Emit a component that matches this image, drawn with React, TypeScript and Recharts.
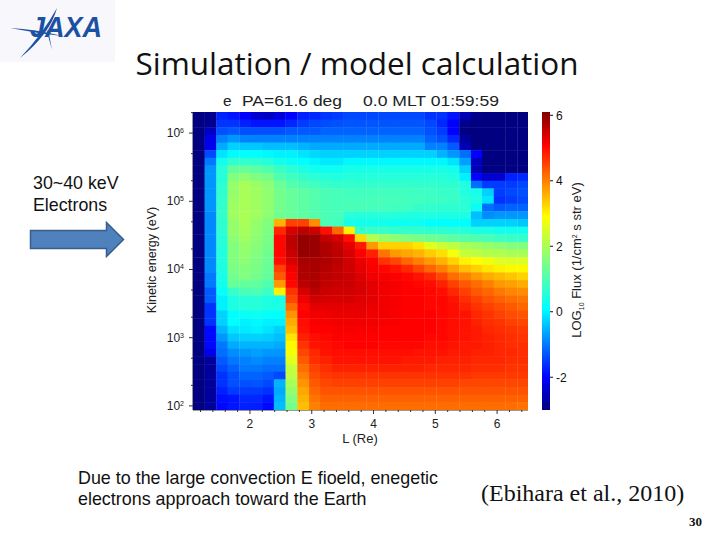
import { Bar, BarChart, Scatter, ScatterChart, XAxis, YAxis } from "recharts"

const title = "Simulation / model calculation"
const shellBins = [1.17, 1.36, 1.55, 1.73, 1.92, 2.11, 2.3, 2.48, 2.67, 2.86, 3.05, 3.23, 3.42, 3.61, 3.79, 3.98, 4.17, 4.36, 4.54, 4.73, 4.92, 5.11, 5.29, 5.48, 5.67, 5.85, 6.04, 6.23, 6.42]
const energyBins = [1795000, 1387000, 1072000, 828000, 640000, 494000, 382000, 295000, 228000, 176000, 136000, 105000, 81300, 62700, 48400, 37400, 28900, 22300, 17300, 13300, 10300, 7960, 6150, 4750, 3670, 2840, 2190, 1690, 1310, 1010, 782, 604, 467, 360, 278, 215, 166, 128, 99]

// flux per energy bin (top to bottom)
const fluxRows = [
  [-2.5, -2.4, -1.3, -1.4, -1.55, -1.9, -2, -1.8, -1.55, -1.3, -1.25, -1.15, -1.1, -1, -1, -1, -1, -1, -1, -1, -1.17, -1.17, -1.4, -2.1, -2.4, -2.5, -2.5, -2.5, -2.5],
  [-2.5, -2.4, -1.15, -1.15, -1.3, -1.4, -1.4, -1.4, -1.25, -1.1, -1, -0.97, -0.92, -0.9, -0.9, -0.9, -0.9, -0.9, -0.9, -0.9, -1, -1.25, -1.55, -2.4, -2.5, -2.5, -2.5, -2.5, -2.5],
  [-2.5, -2, -0.94, -0.86, -0.94, -0.94, -0.94, -0.94, -0.86, -0.86, -0.86, -0.8, -0.8, -0.79, -0.79, -0.79, -0.79, -0.79, -0.79, -0.79, -0.94, -1.1, -1.55, -2.5, -2.5, -2.5, -2.5, -2.5, -2.5],
  [-2.5, -1.7, -0.56, -0.4, -0.56, -0.56, -0.56, -0.56, -0.56, -0.56, -0.56, -0.56, -0.56, -0.56, -0.56, -0.56, -0.56, -0.56, -0.56, -0.56, -0.79, -0.94, -1.25, -2.3, -2.5, -2.5, -2.5, -2.5, -2.5],
  [-2.5, -1.7, -0.25, 0.05, -0.02, -0.02, -0.1, -0.1, -0.1, -0.17, -0.25, -0.25, -0.25, -0.25, -0.25, -0.25, -0.25, -0.25, -0.25, -0.25, -0.56, -0.56, -0.86, -2.1, -2.5, -2.5, -2.5, -2.5, -2.5],
  [-2.5, -1, 0.2, 0.38, 0.4, 0.4, 0.35, 0.3, 0.3, 0.2, 0.1, 0.05, 0.05, 0.05, 0.05, 0.05, 0.05, 0.05, 0.05, 0.05, 0.05, -0.17, -0.4, -0.7, -1.55, -2.5, -2.5, -2.5, -2.5],
  [-2.5, -0.63, 0.6, 0.93, 0.93, 0.9, 0.8, 0.6, 0.5, 0.4, 0.32, 0.25, 0.25, 0.35, 0.35, 0.35, 0.35, 0.35, 0.35, 0.35, 0.35, 0.35, 0.2, -0.33, -2, -2.5, -2.5, -2.5, -2.5],
  [-2.5, -0.4, 0.8, 1.47, 1.5, 1.4, 1.25, 1.05, 0.85, 0.7, 0.6, 0.55, 0.55, 0.65, 0.65, 0.65, 0.65, 0.65, 0.65, 0.65, 0.65, 0.65, 0.6, 0.05, -2.1, -2.5, -2.5, -2.5, -2.5],
  [-2.5, -0.4, 0.8, 1.78, 1.9, 1.75, 1.65, 1.25, 1.1, 0.95, 0.85, 0.8, 0.75, 0.8, 0.8, 0.8, 0.8, 0.8, 0.8, 0.8, 0.8, 0.8, 0.75, 0.3, -1.55, -1.9, -1.9, -1.3, -1.25],
  [-2.5, -0.4, 0.85, 2, 2.2, 2.05, 1.9, 1.55, 1.3, 1.2, 1.1, 1, 0.95, 0.95, 0.95, 0.95, 0.95, 0.95, 0.95, 0.95, 0.95, 0.9, 0.9, 0.75, -0.7, -1.1, -1.1, -1.1, -1],
  [-2.5, -0.4, 0.9, 2, 2.2, 2.1, 1.95, 1.65, 1.5, 1.4, 1.3, 1.2, 1.15, 1.1, 1.1, 1.1, 1.1, 1.1, 1.1, 1.05, 1.05, 1, 1, 0.75, 0.65, 0.05, -1.1, -1, -0.94],
  [-2.5, -0.4, 0.93, 2.05, 2.2, 2.1, 1.95, 1.65, 1.5, 1.4, 1.3, 1.2, 1.15, 1.15, 1.15, 1.15, 1.15, 1.15, 1.1, 1.1, 1.05, 1.05, 1, 0.85, 0.7, 0.2, -1.17, -1.1, -1],
  [-2.5, -0.4, 0.93, 2.1, 2.2, 2.1, 1.95, 1.65, 1.5, 1.4, 1.3, 1.2, 1.15, 1.2, 1.2, 1.15, 1.15, 1.1, 1.1, 0.95, 0.95, 0.9, 0.9, 0.85, 0.5, -0.7, -0.86, -0.79, -0.79],
  [-2.5, -0.5, 0.93, 2.1, 2.2, 2.1, 1.9, 1.6, 1.5, 1.4, 1.3, 1.2, 1.15, 0.85, 0.8, 0.8, 0.8, 0.8, 0.75, 0.75, 0.75, 0.7, 0.7, 0.7, -0.1, -0.48, -0.4, -0.4, -0.4],
  [-2.5, -0.5, 0.9, 2, 2.2, 2, 1.8, 3.7, 4.6, 4.6, 4, 1.2, 1.1, 0.65, 0.6, 0.6, 0.6, 0.55, 0.55, 0.55, 0.4, 0.4, 0.4, 0.4, 0.05, 0.05, 0.05, 0.05, -0.02],
  [-2.5, -0.5, 0.85, 2, 2.15, 1.95, 1.75, 4.8, 5.4, 5.6, 5.5, 5, 4.3, 3.2, 1, 1, 1, 0.95, 0.95, 0.95, 0.9, 0.9, 0.85, 0.8, 0.7, 0.7, 0.6, 0.6, 0.6],
  [-2.5, -0.5, 0.8, 1.9, 2.1, 1.9, 1.7, 5.05, 5.6, 5.9, 5.85, 5.55, 5.4, 5, 3.4, 2.3, 2.05, 1.9, 1.8, 1.7, 1.6, 1.5, 1.4, 1.3, 1.25, 1.15, 1.05, 1, 0.93],
  [-2.5, -0.5, 0.8, 1.8, 2, 1.85, 1.65, 5.05, 5.6, 5.9, 5.85, 5.7, 5.55, 5.3, 4.9, 3.9, 3.45, 3.45, 3.45, 3.3, 2.8, 2.55, 2.4, 2.2, 2.1, 2, 1.9, 1.8, 1.78],
  [-2.5, -0.5, 0.75, 1.8, 1.95, 1.8, 1.6, 5.05, 5.5, 5.9, 5.85, 5.7, 5.6, 5.4, 5.1, 4.85, 4.2, 3.9, 3.8, 3.7, 3.5, 3.35, 3, 2.5, 2.4, 2.3, 2.3, 2.2, 2.2],
  [-2.5, -0.5, 0.75, 1.78, 1.9, 1.75, 1.55, 5, 5.4, 5.75, 5.75, 5.7, 5.6, 5.45, 5.25, 5.1, 4.7, 4.55, 4.3, 4.1, 3.9, 3.7, 3.45, 3.2, 3.1, 2.95, 2.75, 2.7, 2.7],
  [-2.5, -0.5, 0.7, 1.7, 1.8, 1.7, 1.5, 4.6, 5.2, 5.7, 5.75, 5.65, 5.55, 5.45, 5.3, 5.15, 5.05, 4.95, 4.8, 4.55, 4.3, 4.1, 3.85, 3.6, 3.45, 3.3, 3.2, 3.15, 3.15],
  [-2.5, -0.63, 0.65, 1.65, 1.78, 1.65, 1.47, 4.4, 5.1, 5.7, 5.7, 5.6, 5.55, 5.5, 5.35, 5.2, 5.15, 5.1, 5.05, 4.95, 4.8, 4.55, 4.25, 4.1, 3.9, 3.75, 3.65, 3.55, 3.45],
  [-2.5, -0.63, 0.6, 1.5, 1.47, 1.45, 1.25, 3.9, 5.05, 5.6, 5.7, 5.55, 5.5, 5.5, 5.4, 5.3, 5.2, 5.15, 5.1, 5.05, 5, 4.85, 4.6, 4.4, 4.25, 4.1, 3.9, 3.85, 3.75],
  [-2.5, -0.86, 0.45, 1, 1.2, 1.25, 1.05, 3.2, 4.7, 5.4, 5.6, 5.5, 5.45, 5.45, 5.4, 5.3, 5.2, 5.15, 5.1, 5.1, 5.05, 5, 4.8, 4.6, 4.4, 4.3, 4.15, 4.05, 4],
  [-2.5, -0.86, 0.3, 0.7, 0.8, 0.8, 0.7, 0.65, 4.55, 5.2, 5.45, 5.4, 5.4, 5.4, 5.35, 5.3, 5.2, 5.15, 5.1, 5.1, 5.05, 5.05, 4.95, 4.75, 4.6, 4.45, 4.35, 4.25, 4.2],
  [-2.5, -1.17, 0.3, 0.7, 0.8, 0.8, 0.7, 0.7, 4.25, 5.05, 5.3, 5.3, 5.3, 5.3, 5.3, 5.25, 5.2, 5.15, 5.1, 5.1, 5.05, 5.05, 5, 4.85, 4.7, 4.6, 4.5, 4.4, 4.3],
  [-2.5, -1.17, 0.05, 0.4, 0.5, 0.55, 0.45, 0.4, 3.95, 5.1, 5.2, 5.2, 5.25, 5.25, 5.25, 5.2, 5.2, 5.15, 5.1, 5.1, 5.1, 5.05, 5, 4.95, 4.8, 4.7, 4.6, 4.5, 4.45],
  [-2.5, -1.17, 0.05, 0.4, 0.3, 0.35, 0.3, 0.3, 3.75, 5, 5.15, 5.15, 5.2, 5.2, 5.2, 5.2, 5.15, 5.15, 5.1, 5.1, 5.1, 5.05, 5, 4.95, 4.85, 4.75, 4.7, 4.6, 4.55],
  [-2.5, -1.5, -0.17, 0.2, 0.25, 0.3, 0.2, 0.05, 3.6, 4.95, 5.1, 5.1, 5.15, 5.15, 5.15, 5.15, 5.1, 5.1, 5.1, 5.1, 5.1, 5.05, 5, 4.95, 4.9, 4.8, 4.75, 4.7, 4.65],
  [-2.5, -1.5, -0.4, -0.02, 0.05, 0.05, 0.02, -0.1, 3.3, 4.85, 5, 5.05, 5.1, 5.1, 5.1, 5.1, 5.1, 5.1, 5.1, 5.1, 5.05, 5.05, 5, 4.95, 4.9, 4.85, 4.8, 4.75, 4.7],
  [-2.5, -1.5, -0.63, -0.25, -0.17, -0.17, -0.17, -0.25, 3.15, 4.7, 4.95, 5, 5.05, 5.1, 5.1, 5.1, 5.05, 5.05, 5.05, 5.05, 5, 5, 4.95, 4.9, 4.9, 4.85, 4.8, 4.75, 4.75],
  [-2.5, -1.7, -0.7, -0.48, -0.4, -0.33, -0.4, -0.4, 3, 4.55, 4.8, 4.95, 5, 5, 5, 5, 5, 5, 5, 4.95, 4.95, 4.95, 4.9, 4.9, 4.85, 4.85, 4.8, 4.8, 4.75],
  [-2.5, -2.3, -0.86, -0.63, -0.56, -0.48, -0.56, -0.56, 2.8, 4.4, 4.75, 4.85, 4.95, 4.95, 4.95, 4.95, 4.95, 4.95, 4.9, 4.9, 4.9, 4.85, 4.85, 4.85, 4.8, 4.8, 4.8, 4.75, 4.75],
  [-2.5, -2.3, -1, -0.79, -0.63, -0.63, -0.7, -0.7, 2.5, 4.25, 4.6, 4.75, 4.85, 4.85, 4.85, 4.85, 4.85, 4.85, 4.85, 4.85, 4.8, 4.8, 4.8, 4.8, 4.75, 4.75, 4.75, 4.7, 4.7],
  [-2.5, -2.3, -1.17, -0.94, -0.79, -0.79, -0.86, -1, 2.4, 4.1, 4.5, 4.65, 4.7, 4.7, 4.7, 4.7, 4.7, 4.7, 4.7, 4.7, 4.7, 4.7, 4.7, 4.7, 4.65, 4.65, 4.65, 4.65, 4.65],
  [-2.5, -2.3, -1.17, -0.94, -0.94, -0.9, -1, -0.17, 2.2, 3.95, 4.4, 4.55, 4.6, 4.6, 4.6, 4.6, 4.6, 4.6, 4.6, 4.6, 4.6, 4.6, 4.6, 4.55, 4.55, 4.55, 4.55, 4.55, 4.55],
  [-2.5, -2.3, -1.32, -1.1, -1.1, -1.1, -1.17, -0.25, 2, 3.8, 4.3, 4.45, 4.45, 4.45, 4.45, 4.45, 4.45, 4.45, 4.45, 4.45, 4.45, 4.45, 4.45, 4.45, 4.45, 4.45, 4.45, 4.45, 4.45],
  [-2.5, -2.3, -1.45, -1.4, -1.25, -1.25, -1.4, -0.17, 1.78, 3.7, 4.2, 4.35, 4.35, 4.35, 4.35, 4.35, 4.35, 4.35, 4.35, 4.35, 4.35, 4.35, 4.35, 4.35, 4.35, 4.35, 4.35, 4.35, 4.35],
  [-2.5, -2.3, -1.5, -1.4, -1.32, -1.32, -1.5, -0.1, 1.65, 3.6, 4.1, 4.25, 4.25, 4.25, 4.25, 4.25, 4.25, 4.25, 4.25, 4.25, 4.25, 4.25, 4.25, 4.25, 4.25, 4.25, 4.25, 4.25, 4.2],
]

const lMajor = [2, 3, 4, 5, 6]
const lTicks = [1.2, 1.4, 1.6, 1.8, 2, 2.2, 2.4, 2.6, 2.8, 3, 3.2, 3.4, 3.6, 3.8, 4, 4.2, 4.4, 4.6, 4.8, 5, 5.2, 5.4, 5.6, 5.8, 6, 6.2, 6.4]
const energyMajor = [100, 1000, 10000, 100000, 1000000]
const energyTicks = [100, 200, 500, 1000, 2000, 5000, 10000, 20000, 50000, 100000, 200000, 500000, 1000000, 2000000]
const barTicks = [-2, 0, 2, 4, 6]
const barRange = [{ name: "flux", range: [-3, 6.1] }]

// jet table for the cells: value, r, g, b
const jet = [
  [-2.5, 0, 0, 128],
  [-1.55, 0, 0, 255],
  [0.4, 0, 255, 255],
  [1.78, 128, 255, 128],
  [3.1, 255, 255, 0],
  [5.1, 255, 0, 0],
  [6.05, 128, 0, 0],
]

// same colours at the positions they sit on the colour bar
const barStops = [
  [-3, 0, 0, 128],
  [-2, 0, 0, 255],
  [0.1, 0, 255, 255],
  [1.55, 128, 255, 128],
  [2.9, 255, 255, 0],
  [5.1, 255, 0, 0],
  [6.1, 128, 0, 0],
]

function jetColor(v: number) {
  for (let i = 1; i < jet.length; i++) {
    if (v <= jet[i][0]) {
      const a = jet[i - 1]
      const b = jet[i]
      const t = Math.max(0, (v - a[0]) / (b[0] - a[0]))
      const c = [1, 2, 3].map((k) => Math.round(a[k] + (b[k] - a[k]) * t))
      return `rgb(${c[0]},${c[1]},${c[2]})`
    }
  }
  return "rgb(128,0,0)"
}

const cells = fluxRows.flatMap((row, r) =>
  row.map((flux, c) => ({ l: shellBins[c], energy: energyBins[r], flux }))
)

const axisColor = "#333"
const labelFont = "'Liberation Sans', Arial, sans-serif"

function HeatCell(props: any) {
  const { cx, cy, payload } = props
  return <rect x={cx - 5.78} y={cy - 3.82} width={12} height={8.1} fill={jetColor(payload.flux)} stroke="none" />
}

function LTick(props: any) {
  const { x, y, payload } = props
  const major = lMajor.includes(payload.value)
  return (
    <g>
      <line x1={x} x2={x} y1={y} y2={y + (major ? 4 : 2)} stroke={axisColor} />
      {major && (
        <text x={x} y={y + 18} textAnchor="middle" fontSize={12} fontFamily={labelFont} fill="#222">
          {payload.value}
        </text>
      )}
    </g>
  )
}

function TopTick(props: any) {
  const { x, y, payload } = props
  return <line x1={x} x2={x} y1={y} y2={y - (lMajor.includes(payload.value) ? 3 : 1.5)} stroke={axisColor} />
}

function EnergyTick(props: any) {
  const { x, y, payload } = props
  const major = energyMajor.includes(payload.value)
  const exponent = Math.round(Math.log10(payload.value))
  return (
    <g>
      <line x1={x - (major ? 4 : 2)} x2={x} y1={y} y2={y} stroke={axisColor} />
      {major && (
        <text x={x - 9} y={y + 4} textAnchor="end" fontSize={12} fontFamily={labelFont} fill="#222">
          10<tspan fontSize={7} dy={-4}>{exponent}</tspan>
        </text>
      )}
    </g>
  )
}

function RightTick(props: any) {
  const { x, y, payload } = props
  return <line x1={x} x2={x + (energyMajor.includes(payload.value) ? 4 : 2)} y1={y} y2={y} stroke={axisColor} />
}

function Heatmap() {
  return (
    <ScatterChart width={720} height={540} margin={{ top: 112, right: 192, bottom: 90, left: 148 }}>
      <XAxis
        type="number"
        dataKey="l"
        domain={[1.078, 6.5]}
        ticks={lTicks}
        interval={0}
        allowDataOverflow
        height={40}
        tickSize={0}
        tickMargin={0}
        tickLine={false}
        tick={<LTick />}
        stroke={axisColor}
      />
      <XAxis
        xAxisId="top"
        orientation="top"
        type="number"
        domain={[1.078, 6.5]}
        ticks={lTicks}
        interval={0}
        allowDataOverflow
        height={0}
        tickSize={0}
        tickMargin={0}
        tickLine={false}
        tick={<TopTick />}
        stroke={axisColor}
      />
      <YAxis
        type="number"
        dataKey="energy"
        scale="log"
        domain={[87, 2040000]}
        ticks={energyTicks}
        interval={0}
        allowDataOverflow
        width={45}
        tickSize={0}
        tickMargin={0}
        tickLine={false}
        tick={<EnergyTick />}
        stroke={axisColor}
      />
      <YAxis
        yAxisId="right"
        orientation="right"
        type="number"
        scale="log"
        domain={[87, 2040000]}
        ticks={energyTicks}
        interval={0}
        allowDataOverflow
        width={0}
        tickSize={0}
        tickMargin={0}
        tickLine={false}
        tick={<RightTick />}
        stroke={axisColor}
      />
      <Scatter data={cells} shape={<HeatCell />} isAnimationActive={false} />
    </ScatterChart>
  )
}

function ColorBar() {
  return (
    <BarChart width={60} height={540} data={barRange} barCategoryGap={0} margin={{ top: 112, right: 10, bottom: 130, left: 12 }}>
      <defs>
        <linearGradient id="jetBar" x1="0" y1="1" x2="0" y2="0">
          {barStops.map((s) => (
            <stop key={s[0]} offset={(s[0] + 3) / 9.1} stopColor={`rgb(${s[1]},${s[2]},${s[3]})`} />
          ))}
        </linearGradient>
      </defs>
      <XAxis dataKey="name" hide />
      <YAxis
        orientation="right"
        type="number"
        domain={[-3, 6.1]}
        ticks={barTicks}
        interval={0}
        allowDataOverflow
        width={30}
        tickSize={3}
        tickMargin={3}
        axisLine={false}
        tick={{ fontSize: 12, fontFamily: labelFont, fill: "#111" }}
        stroke="#111"
      />
      <Bar dataKey="range" fill="url(#jetBar)" isAnimationActive={false} />
    </BarChart>
  )
}

function Slide() {
  return (
    <svg width={720} height={540} style={{ position: "absolute", left: 0, top: 0 }}>
      {/* logo */}
      <rect x={0} y={0} width={115} height={62} fill="#f8f8fc" />
      <text x={30} y={37} fontSize={30} fontWeight="bold" fontStyle="italic" fontFamily={labelFont} fill="#1b51a3" textLength={72} lengthAdjust="spacingAndGlyphs">
        JAXA
      </text>
      <path d="M10 28 Q35 29 62 36 Q35 33 10 28Z" fill="#1b51a3" />
      <path d="M20 58 Q42 35 57 8 Q50 34 20 58Z" fill="#1b51a3" />
      <path d="M46 28 L52 50 L49 34Z" fill="#1b51a3" />

      <text x={357} y={75} textAnchor="middle" fontSize={31} fontFamily="'Open Sans', sans-serif" fill="#111" textLength={443} lengthAdjust="spacingAndGlyphs">
        {title}
      </text>

      {/* plot captions */}
      <text x={223} y={106} fontSize={15.5} fontFamily={labelFont} fill="#222">e</text>
      <text x={242} y={106} fontSize={15.5} fontFamily={labelFont} fill="#222" textLength={100} lengthAdjust="spacingAndGlyphs">PA=61.6 deg</text>
      <text x={363} y={106} fontSize={15.5} fontFamily={labelFont} fill="#222" textLength={136} lengthAdjust="spacingAndGlyphs">0.0 MLT 01:59:59</text>
      <text x={360} y={443} textAnchor="middle" fontSize={13} fontFamily={labelFont} fill="#222">L (Re)</text>
      <text transform="translate(156 260) rotate(-90)" textAnchor="middle" fontSize={12.5} fontFamily={labelFont} fill="#222">
        Kinetic energy (eV)
      </text>
      <text transform="translate(581 260) rotate(-90)" textAnchor="middle" fontSize={13} fontFamily={labelFont} fill="#222">
        LOG<tspan fontSize={7} dy={3}>10</tspan><tspan dy={-3}> Flux (1/cm</tspan><tspan fontSize={7} dy={-4}>2</tspan><tspan dy={4}> s str eV)</tspan>
      </text>

      {/* slide notes */}
      <text x={33} y={189} fontSize={17.8} fontFamily={labelFont} fill="#111">30~40 keV</text>
      <text x={33} y={211} fontSize={17.8} fontFamily={labelFont} fill="#111">Electrons</text>
      <path d="M30.5 230.5 H106.5 V222.5 L123.5 239.5 L106.5 256.5 V248.5 H30.5Z" fill="#4f81bd" stroke="#385d8a" strokeWidth={1.5} />
      <text x={78} y={484} fontSize={17.9} fontFamily={labelFont} fill="#111">Due to the large convection E fioeld, enegetic</text>
      <text x={78} y={505} fontSize={17.9} fontFamily={labelFont} fill="#111">electrons approach toward the Earth</text>
      <text x={481} y={501} fontSize={24} fontFamily="'Liberation Serif', serif" fill="#111">(Ebihara et al., 2010)</text>
      <text x={689} y={526} fontSize={13} fontWeight="bold" fontFamily="'Liberation Serif', serif" fill="#111">30</text>
    </svg>
  )
}

export default function App() {
  return (
    <div style={{ position: "absolute", left: 0, top: 0, width: 720, height: 540, background: "#fff" }}>
      <Slide />
      <div style={{ position: "absolute", left: 0, top: 0 }}>
        <Heatmap />
      </div>
      <div style={{ position: "absolute", left: 530, top: 0 }}>
        <ColorBar />
      </div>
    </div>
  )
}
